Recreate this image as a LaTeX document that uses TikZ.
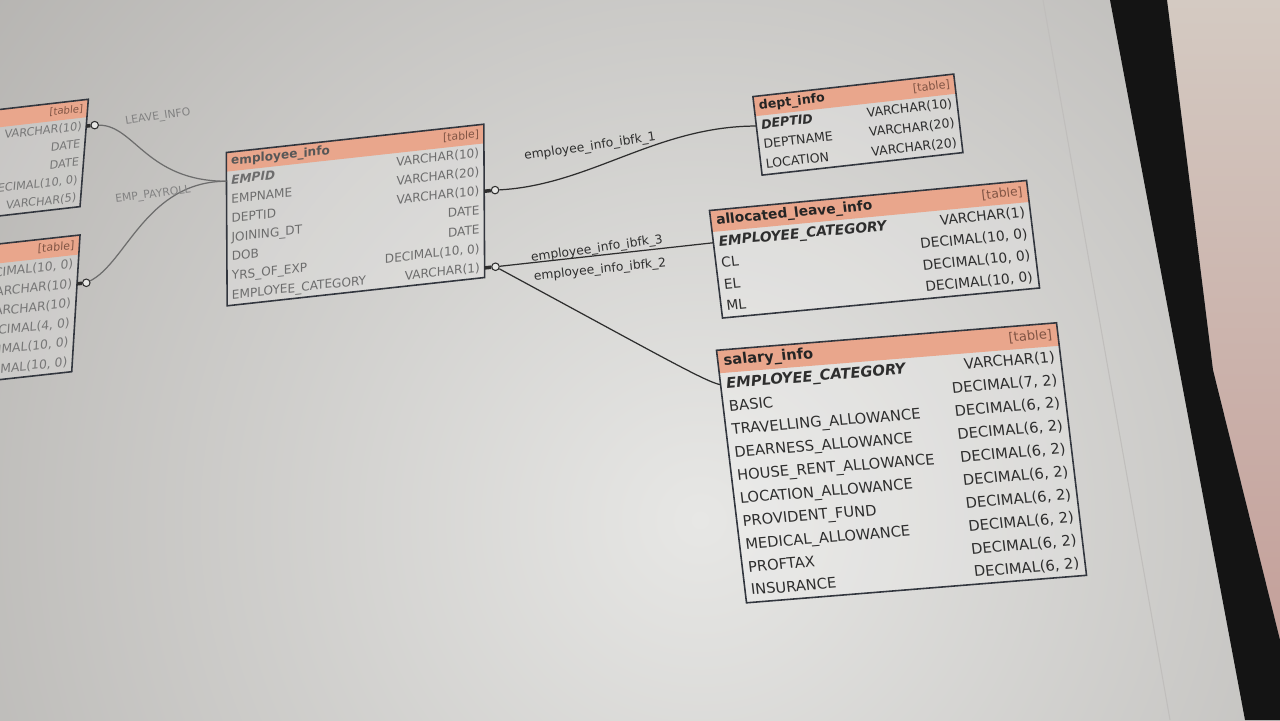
\documentclass[tikz,border=0pt]{standalone}
\usepackage{fontspec}
\setmainfont{DejaVu Sans}
\definecolor{salmon}{RGB}{233,166,140}
\definecolor{frame}{RGB}{50,54,62}
\definecolor{ink}{RGB}{46,46,46}
\definecolor{tagink}{RGB}{128,84,68}
\definecolor{scrhi}{RGB}{231,231,229}
\definecolor{scrlo}{RGB}{176,174,171}
\definecolor{bezel}{RGB}{20,20,20}
\definecolor{roomtop}{RGB}{212,202,194}
\definecolor{roombot}{RGB}{196,160,154}
\begin{document}
\begin{tikzpicture}[x=0.02cm, y=-0.02cm]
  \tikzstyle{hdr}=[fill=salmon]
  \tikzstyle{body}=[fill=white, fill opacity=0.2]
  \tikzstyle{tbl}=[draw=frame, line width=0.9pt]
  \tikzstyle{txt}=[inner sep=0pt, text height=6pt, text depth=1.7pt]
  \tikzstyle{tname}=[txt, anchor=west, text=ink!80!black,
    font=\fontsize{7.6}{9}\selectfont\bfseries]
  \tikzstyle{ttag}=[txt, anchor=east, text=tagink,
    font=\fontsize{6.8}{8}\selectfont]
  \tikzstyle{fname}=[txt, anchor=west, text=ink,
    font=\fontsize{7.6}{9}\selectfont]
  \tikzstyle{fkey}=[fname, font=\fontsize{7.6}{9}\selectfont\bfseries\itshape]
  \tikzstyle{ftype}=[txt, anchor=east, text=ink,
    font=\fontsize{7.6}{9}\selectfont]
  \tikzstyle{optc}=[circle, draw=ink, fill=scrhi, line width=0.6pt,
    minimum size=0.15cm, inner sep=0pt]
  \tikzstyle{foot}=[draw=ink, line width=2pt]
  \tikzstyle{rel}=[draw=ink, line width=0.7pt]
  \tikzstyle{rlabel}=[inner sep=0pt, text=ink,
    font=\fontsize{7}{9}\selectfont]

  \useasboundingbox (0,0) rectangle (1280,720);
  \clip (0,0) rectangle (1280,720);

  % screen, bezel and room behind
  \shade[inner color=scrhi, outer color=scrlo] (700,520) circle (1000);
  \draw[scrlo!80!white, line width=0.6pt] (1043,0) -- (1170,720);
  \shade[top color=roomtop, bottom color=roombot]
    (1167,0) -- (1280,0) -- (1280,640) -- (1213,370) -- cycle;
  \fill[bezel] (1110,0) -- (1167,0) -- (1213,370) -- (1280,640) --
    (1280,720) -- (1245,720) -- cycle;

  % leave table (left, cut off)
  \begin{scope}[cm={0.8464,0.0974,0.0659,0.852,(-165.6,128.5)}, transform shape]
    \colorlet{ink}{ink!65!white}
    \fill[body] (0,0) rectangle (300,126);
    \fill[hdr] (0,0) rectangle (300,21);
    \draw[tbl] (0,0) rectangle (300,126);
    \node[ttag] (lv-tag) at (295,10.5) {[table]};
    \foreach \typ [count=\i] in {VARCHAR(10), DATE, DATE, {DECIMAL(10, 0)}, VARCHAR(5)}
      \node[ftype] (lv-t\i) at (295,{21*\i+10.5}) {\typ};
    \coordinate (lv-e1) at (300,31.5);
    \coordinate (lv-o1) at (310,31.5);
  \end{scope}

  % payroll table (left, cut off)
  \begin{scope}[cm={0.9244,0.1017,0.0565,0.93,(-197.3,265.5)}, transform shape]
    \colorlet{ink}{ink!65!white}
    \fill[body] (0,0) rectangle (300,147);
    \fill[hdr] (0,0) rectangle (300,21);
    \draw[tbl] (0,0) rectangle (300,147);
    \node[ttag] (pay-tag) at (295,10.5) {[table]};
    \foreach \typ [count=\i] in {{DECIMAL(10, 0)}, VARCHAR(10), VARCHAR(10),
        {DECIMAL(4, 0)}, {DECIMAL(10, 0)}, {DECIMAL(10, 0)}}
      \node[ftype] (pay-t\i) at (295,{21*\i+10.5}) {\typ};
    \coordinate (pay-e2) at (300,52.5);
    \coordinate (pay-o2) at (310,52.5);
  \end{scope}

  % employee_info
  \begin{scope}[cm={0.9067,0.0996,-0.0051,0.9125,(226.3,152.5)}, transform shape]
    \colorlet{ink}{ink!70!white}
    \fill[body] (0,0) rectangle (284,168);
    \fill[hdr] (0,0) rectangle (284,21);
    \draw[tbl] (0,0) rectangle (284,168);
    \node[tname] (emp-title) at (5,10.5) {employee\_info};
    \node[ttag] (emp-tag) at (279,10.5) {[table]};
    \node[fkey] (emp-n1) at (5,31.5) {EMPID};
    \node[ftype] (emp-t1) at (279,31.5) {VARCHAR(10)};
    \foreach \fld/\typ [count=\i from 2] in {EMPNAME/VARCHAR(20),
        DEPTID/VARCHAR(10), JOINING\_DT/DATE, DOB/DATE,
        YRS\_OF\_EXP/{DECIMAL(10, 0)}, EMPLOYEE\_CATEGORY/VARCHAR(1)}
    {
      \node[fname] (emp-n\i) at (5,{21*\i+10.5}) {\fld};
      \node[ftype] (emp-t\i) at (279,{21*\i+10.5}) {\typ};
    }
    \coordinate (emp-w1) at (0,31.5);
    \coordinate (emp-e3) at (284,73.5);
    \coordinate (emp-o3) at (296,73.5);
    \coordinate (emp-e7) at (284,157.5);
    \coordinate (emp-o7) at (296,157.5);
  \end{scope}

  % dept_info
  \begin{scope}[cm={0.934,0.1047,-0.1095,0.9345,(752.9,96.6)}, transform shape]
    \fill[body] (0,0) rectangle (215,84);
    \fill[hdr] (0,0) rectangle (215,21);
    \draw[tbl] (0,0) rectangle (215,84);
    \node[tname] (dept-title) at (5,10.5) {dept\_info};
    \node[ttag] (dept-tag) at (210,10.5) {[table]};
    \node[fkey] (dept-n1) at (5,31.5) {DEPTID};
    \node[ftype] (dept-t1) at (210,31.5) {VARCHAR(10)};
    \foreach \fld/\typ [count=\i from 2] in {DEPTNAME/VARCHAR(20), LOCATION/VARCHAR(20)}
    {
      \node[fname] (dept-n\i) at (5,{21*\i+10.5}) {\fld};
      \node[ftype] (dept-t\i) at (210,{21*\i+10.5}) {\typ};
    }
    \coordinate (dept-w1) at (0,31.5);
  \end{scope}

  % allocated_leave_info
  \begin{scope}[cm={1.026,0.0971,-0.1238,1.0238,(709.5,210.5)}, transform shape]
    \fill[body] (0,0) rectangle (309,105);
    \fill[hdr] (0,0) rectangle (309,21);
    \draw[tbl] (0,0) rectangle (309,105);
    \node[tname] (alloc-title) at (5,10.5) {allocated\_leave\_info};
    \node[ttag] (alloc-tag) at (304,10.5) {[table]};
    \node[fkey] (alloc-n1) at (5,31.5) {EMPLOYEE\_CATEGORY};
    \node[ftype] (alloc-t1) at (304,31.5) {VARCHAR(1)};
    \foreach \fld [count=\i from 2] in {CL, EL, ML}
    {
      \node[fname] (alloc-n\i) at (5,{21*\i+10.5}) {\fld};
      \node[ftype] (alloc-t\i) at (304,{21*\i+10.5}) {DECIMAL(10, 0)};
    }
    \coordinate (alloc-w1) at (0,31.5);
  \end{scope}

  % salary_info
  \begin{scope}[cm={1.0968,0.0887,-0.1299,1.0931,(716.5,350.3)}, transform shape]
    \fill[body] (0,0) rectangle (310,231);
    \fill[hdr] (0,0) rectangle (310,21);
    \draw[tbl] (0,0) rectangle (310,231);
    \node[tname] (sal-title) at (5,10.5) {salary\_info};
    \node[ttag] (sal-tag) at (305,10.5) {[table]};
    \node[fkey] (sal-n1) at (5,31.5) {EMPLOYEE\_CATEGORY};
    \node[ftype] (sal-t1) at (305,31.5) {VARCHAR(1)};
    \foreach \fld/\typ [count=\i from 2] in {BASIC/{DECIMAL(7, 2)},
        TRAVELLING\_ALLOWANCE/{DECIMAL(6, 2)}, DEARNESS\_ALLOWANCE/{DECIMAL(6, 2)},
        HOUSE\_RENT\_ALLOWANCE/{DECIMAL(6, 2)}, LOCATION\_ALLOWANCE/{DECIMAL(6, 2)},
        PROVIDENT\_FUND/{DECIMAL(6, 2)}, MEDICAL\_ALLOWANCE/{DECIMAL(6, 2)},
        PROFTAX/{DECIMAL(6, 2)}, INSURANCE/{DECIMAL(6, 2)}}
    {
      \node[fname] (sal-n\i) at (5,{21*\i+10.5}) {\fld};
      \node[ftype] (sal-t\i) at (305,{21*\i+10.5}) {\typ};
    }
    \coordinate (sal-w1) at (0,31.5);
  \end{scope}

  % relation ends
  \node[optc] (lv-o) at (lv-o1) {};
  \node[optc] (pay-o) at (pay-o2) {};
  \node[optc] (emp-o3c) at (emp-o3) {};
  \node[optc] (emp-o7c) at (emp-o7) {};
  \draw[foot] (lv-e1) -- (lv-o);
  \draw[foot] (pay-e2) -- (pay-o);
  \draw[foot] (emp-e3) -- (emp-o3c);
  \draw[foot] (emp-e7) -- (emp-o7c);

  % relations
  \draw[rel, draw=ink!70!white] (lv-o) .. controls +(40,0) and +(-80,0) .. (emp-w1);
  \draw[rel, draw=ink!70!white] (pay-o) .. controls +(40,-20) and +(-80,0) .. (emp-w1);
  \draw[rel] (emp-o3c) .. controls +(95,-5) and +(-100,0) .. (dept-w1);
  \draw[rel] (emp-o7c) -- (alloc-w1);
  \draw[rel] (emp-o7c) .. controls +(170,92) and +(-15,-3) .. (sal-w1);

  % relation names
  \node[rlabel, rotate=8.5, text=ink!60!white, font=\fontsize{6.2}{8}\selectfont]
    (lbl-leave) at (158,117) {LEAVE\_INFO};
  \node[rlabel, rotate=7.5, text=ink!60!white, font=\fontsize{6.2}{8}\selectfont]
    (lbl-pay) at (153,195) {EMP\_PAYROLL};
  \node[rlabel, rotate=8.4] (lbl-fk1) at (590,147) {employee\_info\_ibfk\_1};
  \node[rlabel, rotate=7.9] (lbl-fk3) at (597,249) {employee\_info\_ibfk\_3};
  \node[rlabel, rotate=5.9] (lbl-fk2) at (600,270) {employee\_info\_ibfk\_2};
\end{tikzpicture}
\end{document}
